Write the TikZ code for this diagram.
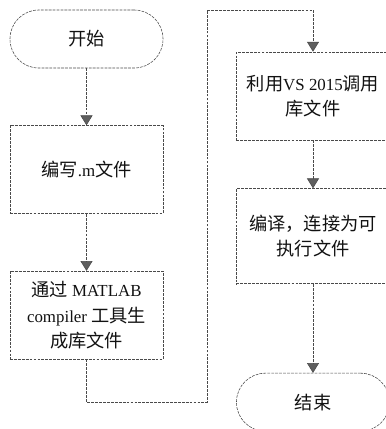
\documentclass[tikz,border=0pt]{standalone}
\usepackage{fontspec}
\setmainfont{Liberation Serif}
\newfontfamily\cjk[Scale=1.08]{Noto Sans CJK SC}
\usetikzlibrary{arrows.meta,positioning}
\definecolor{Ink}{HTML}{111111}
\definecolor{Edge}{HTML}{4A4A4A}
\definecolor{TipGray}{HTML}{5E5E5E}
\tikzset{
  box/.style={draw=Edge,thin,dash pattern=on 2pt off 0.8pt,minimum width=3.825cm,align=center,text=Ink,font=\fontsize{12}{18}\selectfont,inner sep=1pt},
  stepbox/.style={box,minimum height=2.2cm},
  term/.style={box,minimum height=1.45cm,rounded corners=0.72cm},
  arrow/.style={-{Triangle[length=7pt,width=8.5pt,fill=TipGray]},thin,draw=Edge,dash pattern=on 2pt off 0.8pt}
}
\begin{document}
\begin{tikzpicture}[x=0.025cm,y=-0.025cm,node distance=1.425cm]
\useasboundingbox (0,0) rectangle (386,429);
\node[term] (start) at (86.5,39) {\cjk 开始};
\node[stepbox,below=of start] (mfile) {{\cjk 编写}.m{\cjk 文件}};
\node[stepbox,below=of mfile] (lib) {{\cjk 通过} MATLAB\\compiler {\cjk 工具生}\\{\cjk 成库文件}};
\node[stepbox] (call) at (313,96) {{\cjk 利用}VS 2015{\cjk 调用}\\{\cjk 库文件}};
\node[stepbox,minimum height=2.375cm,below=1.2cm of call] (build) {{\cjk 编译，连接为可}\\{\cjk 执行文件}};
\node[term,below=2.225cm of build] (stop) {\cjk 结束};
\coordinate (low) at (207,402);
\coordinate (high) at (207,10);
\draw[arrow] (start)--(mfile);
\draw[arrow] (mfile)--(lib);
\draw[arrow] (lib.south) |- (low) -- (high) -| (call.north);
\draw[arrow] (call)--(build);
\draw[arrow] (build)--(stop);
\end{tikzpicture}
\end{document}
